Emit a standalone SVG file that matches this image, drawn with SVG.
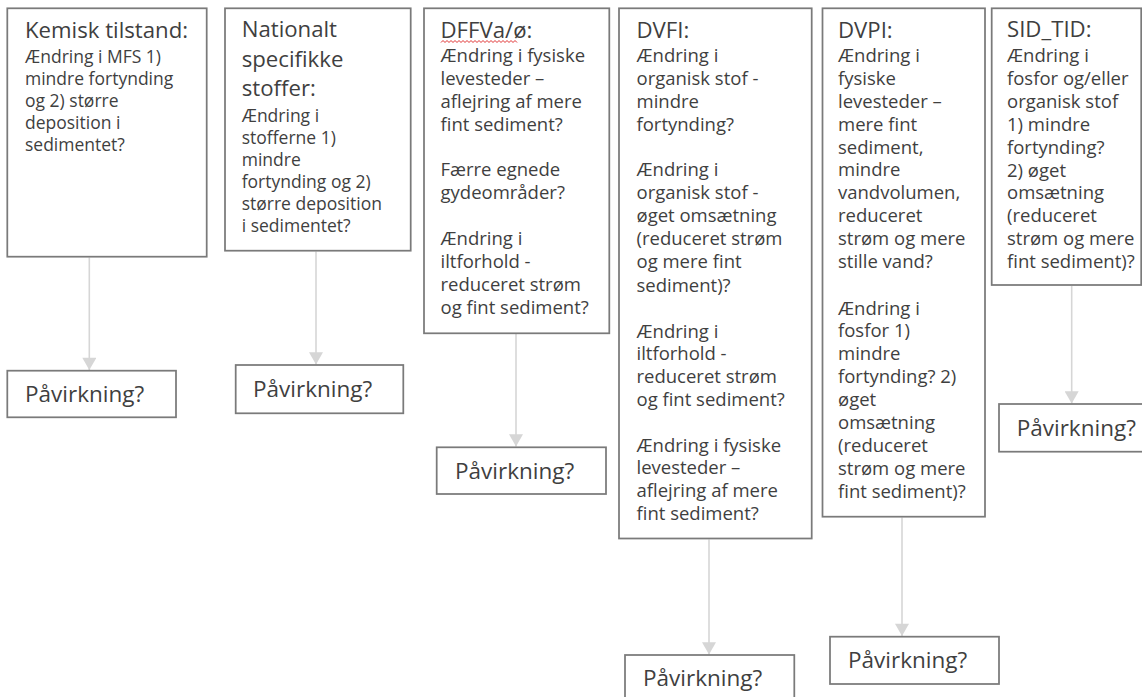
<svg xmlns="http://www.w3.org/2000/svg" width="1142" height="697" viewBox="0 0 1142 697">
<defs>
<style>
.box{fill:#fff;stroke:#7a7a7a;stroke-width:1.75}
.t{font-family:"Open Sans","Noto Sans","DejaVu Sans",sans-serif;fill:#3f3f3f}
.h{font-size:22.2px}
.b{font-size:18.5px}
.bs{font-size:17.5px}
.p{font-size:22.5px}
.conn{stroke:#d6d6d6;stroke-width:1.6;fill:none;marker-end:url(#ah)}
.sq{stroke:#e03030;stroke-width:1;fill:none}
</style>
<marker id="ah" markerUnits="userSpaceOnUse" markerWidth="15" markerHeight="14" viewBox="0 0 13 15" refX="13" refY="7.5" orient="auto">
<path d="M0,0 L13,7.5 L0,15 Z" fill="#d6d6d6"/>
</marker>
</defs>
<rect width="1142" height="697" fill="#fff"/>

<g id="connectors">
<line class="conn" x1="89.3" y1="257.5" x2="89.3" y2="370"/>
<line class="conn" x1="316" y1="251.5" x2="316" y2="364.5"/>
<line class="conn" x1="516" y1="334" x2="516" y2="446.5"/>
<line class="conn" x1="709" y1="539.5" x2="709" y2="654.5"/>
<line class="conn" x1="902" y1="517.5" x2="902" y2="636"/>
<line class="conn" x1="1071.7" y1="286" x2="1071.7" y2="403.5"/>
</g>

<g id="kemisk">
<rect class="box" x="7.3" y="8.3" width="199.4" height="248.4"/>
<text class="t bs">
<tspan class="h" x="25" y="38">Kemisk tilstand:</tspan>
<tspan x="25" y="63.3">Ændring i MFS 1)</tspan>
<tspan x="25" y="85.3">mindre fortynding</tspan>
<tspan x="25" y="107.3">og 2) større</tspan>
<tspan x="25" y="129.3">deposition i</tspan>
<tspan x="25" y="151.3">sedimentet?</tspan>
</text>
</g>

<g id="nationalt">
<rect class="box" x="225" y="8.3" width="185.7" height="242.4"/>
<text class="t bs">
<tspan class="h" x="241.7" y="37.3">Nationalt</tspan>
<tspan class="h" x="241.7" y="66.8">specifikke</tspan>
<tspan class="h" x="241.7" y="96.3">stoffer:</tspan>
<tspan x="241.7" y="121.7">Ændring i</tspan>
<tspan x="241.7" y="143.7">stofferne 1)</tspan>
<tspan x="241.7" y="165.7">mindre</tspan>
<tspan x="241.7" y="187.7">fortynding og 2)</tspan>
<tspan x="241.7" y="209.7">større deposition</tspan>
<tspan x="241.7" y="231.7">i sedimentet?</tspan>
</text>
</g>

<g id="dffva">
<rect class="box" x="424" y="8.3" width="185.3" height="325"/>
<path class="sq" d="M441 42.5 l2 -2 l2 2 l2 -2 l2 2 l2 -2 l2 2 l2 -2 l2 2 l2 -2 l2 2 l2 -2 l2 2 l2 -2 l2 2 l2 -2 l2 2 l2 -2 l2 2 l2 -2 l2 2 l2 -2 l2 2 l2 -2 l2 2 l2 -2 l2 2 l2 -2 l2 2 l2 -2 l2 2 l2 -2 l2 2 l2 -2 l2 2 l2 -2 l2 2 l2 -2 l2 2"/>
<text class="t b">
<tspan class="h" x="440.5" y="37.5">DFFVa/ø:</tspan>
<tspan x="440.5" y="61.9">Ændring i fysiske</tspan>
<tspan x="440.5" y="84.8">levesteder –</tspan>
<tspan x="440.5" y="107.7">aflejring af mere</tspan>
<tspan x="440.5" y="130.6">fint sediment?</tspan>
<tspan x="440.5" y="176.4">Færre egnede</tspan>
<tspan x="440.5" y="199.3">gydeområder?</tspan>
<tspan x="440.5" y="245.1">Ændring i</tspan>
<tspan x="440.5" y="268">iltforhold -</tspan>
<tspan x="440.5" y="290.9">reduceret strøm</tspan>
<tspan x="440.5" y="313.8">og fint sediment?</tspan>
</text>
</g>

<g id="dvfi">
<rect class="box" x="619" y="8.3" width="192.7" height="530.2"/>
<text class="t b">
<tspan class="h" x="636.5" y="37.5">DVFI:</tspan>
<tspan x="636.5" y="61.9">Ændring i</tspan>
<tspan x="636.5" y="84.8">organisk stof -</tspan>
<tspan x="636.5" y="107.7">mindre</tspan>
<tspan x="636.5" y="130.6">fortynding?</tspan>
<tspan x="636.5" y="176.4">Ændring i</tspan>
<tspan x="636.5" y="199.3">organisk stof -</tspan>
<tspan x="636.5" y="222.2">øget omsætning</tspan>
<tspan x="636.5" y="245.1">(reduceret strøm</tspan>
<tspan x="636.5" y="268">og mere fint</tspan>
<tspan x="636.5" y="291.5">sediment)?</tspan>
<tspan x="636.5" y="337.5">Ændring i</tspan>
<tspan x="636.5" y="360.4">iltforhold -</tspan>
<tspan x="636.5" y="383.3">reduceret strøm</tspan>
<tspan x="636.5" y="406.2">og fint sediment?</tspan>
<tspan x="636.5" y="451.5">Ændring i fysiske</tspan>
<tspan x="636.5" y="474.3">levesteder –</tspan>
<tspan x="636.5" y="497.1">aflejring af mere</tspan>
<tspan x="636.5" y="519.9">fint sediment?</tspan>
</text>
</g>

<g id="dvpi">
<rect class="box" x="822.5" y="8.3" width="162.5" height="508.4"/>
<text class="t b">
<tspan class="h" x="838" y="37.5">DVPI:</tspan>
<tspan x="838" y="61.9">Ændring i</tspan>
<tspan x="838" y="84.8">fysiske</tspan>
<tspan x="838" y="107.7">levesteder –</tspan>
<tspan x="838" y="130.6">mere fint</tspan>
<tspan x="838" y="153.5">sediment,</tspan>
<tspan x="838" y="176.4">mindre</tspan>
<tspan x="838" y="199.3">vandvolumen,</tspan>
<tspan x="838" y="222.2">reduceret</tspan>
<tspan x="838" y="245.1">strøm og mere</tspan>
<tspan x="838" y="268">stille vand?</tspan>
<tspan x="838" y="314.5">Ændring i</tspan>
<tspan x="838" y="337.4">fosfor 1)</tspan>
<tspan x="838" y="360.3">mindre</tspan>
<tspan x="838" y="383.2">fortynding? 2)</tspan>
<tspan x="838" y="406.1">øget</tspan>
<tspan x="838" y="429">omsætning</tspan>
<tspan x="838" y="451.9">(reduceret</tspan>
<tspan x="838" y="474.8">strøm og mere</tspan>
<tspan x="838" y="497.7">fint sediment)?</tspan>
</text>
</g>

<g id="sid_tid">
<rect class="box" x="991.7" y="8.3" width="149.5" height="276.7"/>
<text class="t b">
<tspan class="h" x="1007" y="37.3">SID_TID:</tspan>
<tspan x="1007" y="62">Ændring i</tspan>
<tspan x="1007" y="84.9">fosfor og/eller</tspan>
<tspan x="1007" y="107.8">organisk stof</tspan>
<tspan x="1007" y="130.7">1) mindre</tspan>
<tspan x="1007" y="153.6">fortynding?</tspan>
<tspan x="1007" y="176.5">2) øget</tspan>
<tspan x="1007" y="199.4">omsætning</tspan>
<tspan x="1007" y="222.3">(reduceret</tspan>
<tspan x="1007" y="245.2">strøm og mere</tspan>
<tspan x="1007" y="268.1">fint sediment)?</tspan>
</text>
</g>

<g id="p1">
<rect class="box" x="7.3" y="370.7" width="168.7" height="46.6"/>
<text class="t p" x="25" y="402">Påvirkning?</text>
</g>
<g id="p2">
<rect class="box" x="235.7" y="365" width="167.6" height="48.3"/>
<text class="t p" x="253" y="396.5">Påvirkning?</text>
</g>
<g id="p3">
<rect class="box" x="436.7" y="447.3" width="169.3" height="46.7"/>
<text class="t p" x="455" y="479">Påvirkning?</text>
</g>
<g id="p4">
<rect class="box" x="625" y="655" width="169.3" height="50"/>
<text class="t p" x="643" y="686">Påvirkning?</text>
</g>
<g id="p5">
<rect class="box" x="830" y="636.7" width="169" height="47.3"/>
<text class="t p" x="848" y="668">Påvirkning?</text>
</g>
<g id="p6">
<rect class="box" x="999" y="404" width="150" height="47.7"/>
<text class="t p" x="1016.7" y="436">Påvirkning?</text>
</g>
</svg>
